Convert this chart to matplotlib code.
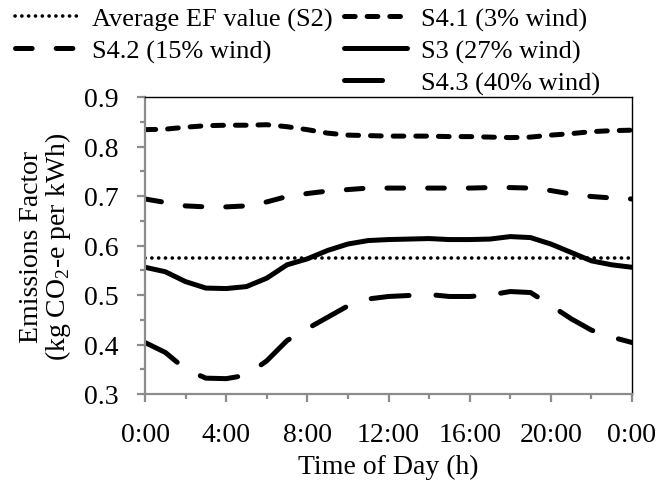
import matplotlib

matplotlib.use("Agg")
import matplotlib.pyplot as plt
from matplotlib.lines import Line2D
from matplotlib.ticker import FixedLocator, MultipleLocator, FuncFormatter

# hourly emissions factors, kg CO2-e per kWh
hours = list(range(25))
avg_s2 = 0.574
s41 = [0.834, 0.835, 0.839, 0.842, 0.843, 0.843, 0.844, 0.840, 0.834, 0.827, 0.823, 0.822, 0.821,
       0.821, 0.821, 0.820, 0.820, 0.819, 0.818, 0.819, 0.823, 0.826, 0.830, 0.832, 0.833]
s42 = [0.694, 0.687, 0.680, 0.678, 0.678, 0.680, 0.688, 0.699, 0.705, 0.710, 0.713, 0.716, 0.716,
       0.716, 0.716, 0.716, 0.716, 0.717, 0.717, 0.716, 0.711, 0.704, 0.699, 0.696, 0.694]
s3 = [0.556, 0.547, 0.527, 0.514, 0.513, 0.517, 0.534, 0.561, 0.573, 0.590, 0.603, 0.610, 0.612,
      0.613, 0.614, 0.612, 0.612, 0.613, 0.618, 0.616, 0.603, 0.586, 0.569, 0.561, 0.556]
s43 = [0.404, 0.384, 0.350, 0.332, 0.331, 0.338, 0.367, 0.408, 0.432, 0.455, 0.478, 0.492, 0.497,
       0.499, 0.501, 0.497, 0.497, 0.500, 0.507, 0.505, 0.479, 0.452, 0.429, 0.415, 0.404]

plt.rcParams.update({
    "font.family": "Liberation Serif",
    "mathtext.fontset": "custom",
    "mathtext.rm": "Liberation Serif",
    "lines.scale_dashes": False,
})

fig = plt.figure(figsize=(6.6, 4.81), dpi=100)
ax = fig.add_axes([145 / 660, 1 - 395 / 481, 487 / 660, 297 / 481])

ax.plot([hours[0], hours[-1]], [avg_s2, avg_s2], color="black", lw=2.6,
        dashes=(0.1, 4.8), dash_capstyle="round", label="Average EF value (S2)")
ax.plot(hours, s41, color="black", lw=3.6, dashes=(7.7, 8.6),
        dash_capstyle="round", label="S4.1 (3% wind)")
ax.plot(hours, s42, color="black", lw=3.6, dashes=(12, 17.3),
        dash_capstyle="round", label="S4.2 (15% wind)")
ax.plot(hours, s3, color="black", lw=3.6, solid_capstyle="round", label="S3 (27% wind)")
ax.plot(hours, s43, color="black", lw=3.6, dashes=(27.4, 19.4),
        dash_capstyle="round", label="S4.3 (40% wind)")

ax.set_xlim(0, 24)
ax.set_ylim(0.3, 0.9)
ax.xaxis.set_major_locator(FixedLocator(range(0, 25, 4)))
ax.xaxis.set_minor_locator(FixedLocator(range(2, 24, 4)))
ax.xaxis.set_major_formatter(FuncFormatter(lambda v, _: f"{int(v) % 24}:00"))
ax.yaxis.set_major_locator(MultipleLocator(0.1))
ax.yaxis.set_minor_locator(MultipleLocator(0.05))
ax.yaxis.set_major_formatter(FuncFormatter(lambda v, _: f"{v:.1f}"))

gray = "#8c8c8c"
for side in ("left", "bottom"):
    ax.spines[side].set_color(gray)
    ax.spines[side].set_linewidth(1.6)
for side in ("top", "right"):
    ax.spines[side].set_color("black")
    ax.spines[side].set_linewidth(1.0)
ax.tick_params(which="major", length=6, width=1.6, color=gray, labelsize=20)
ax.tick_params(which="minor", length=3.5, width=1.6, color=gray)
ax.tick_params(axis="y", which="major", pad=13)
ax.tick_params(axis="x", which="major", pad=14)

ax.set_xlabel("Time of Day (h)", fontsize=20, labelpad=5)
ax.set_ylabel("Emissions Factor\n(kg CO$_\\mathregular{2}$-e per kWh)", fontsize=20,
              linespacing=0.95, labelpad=8)

# two legend columns: blank slot keeps S4.1 / S3 / S4.3 together on the right
handles, labels = ax.get_legend_handles_labels()
blank = Line2D([], [], linestyle="none")
leg_handles = [handles[0], handles[2], blank, handles[1], handles[3], handles[4]]
leg_labels = [labels[0], labels[2], "", labels[1], labels[3], labels[4]]
fig.legend(leg_handles, leg_labels, loc="upper left", bbox_to_anchor=(15 / 660, 1 - 8 / 481),
           ncol=2, frameon=False, fontsize=19, handlelength=2.4, handletextpad=0.5,
           columnspacing=0.45, labelspacing=0.3, borderpad=0, borderaxespad=0)

fig.savefig("out.png", dpi=100)
